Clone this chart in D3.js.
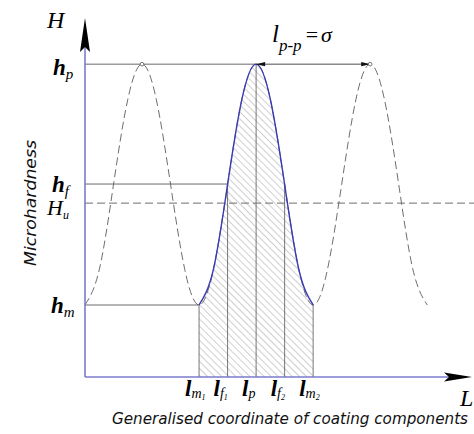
<!DOCTYPE html>
<html><head><meta charset="utf-8">
<script src="https://cdn.jsdelivr.net/npm/d3@7"></script>
<style>body{margin:0;background:#fff}svg{display:block}</style>
</head><body>
<script>
// ---- data ----
const curveX = [0,0.25,0.5,0.75,1,1.25,1.5,1.75,2,2.25,2.5,2.75,3,3.25,3.5,3.75,4,4.25,4.5,4.75,5,5.25,5.5,5.75,6];
const curveH = [2.0,2.98,5.35,7.71,8.69,7.71,5.35,2.98,2.0,2.98,5.35,7.71,8.69,7.71,5.35,2.98,2.0,2.98,5.35,7.71,8.69,7.71,5.35,2.98,2.0];
const markX = [2, 2.5, 3, 3.5, 4];
const markMain = ["l","l","l","l","l"];
const markSub = ["m","f","p","f","m"];
const markSubSub = ["1","1","","2","2"];
const levelNames = ["h","h","H","h"];
const levelSubs = ["p","f","u","m"];
const levelValues = [8.69, 5.36, 4.83, 2.0];
const peakLeft = 1, peakMain = 3, peakRight = 5;
const activeFrom = 2, activeTo = 4;

const W = 474, H = 434;
const svg = d3.select("body").append("svg").attr("width", W).attr("height", H);
const x = d3.scaleLinear().domain([0, 6.75]).range([85, 470]);
const y = d3.scaleLinear().domain([0, 10]).range([377, 17]);

const defs = svg.append("defs");
const pat = defs.append("pattern").attr("id","hatch").attr("patternUnits","userSpaceOnUse")
  .attr("width",5).attr("height",5).attr("patternTransform","rotate(-45)");
pat.append("line").attr("x1",0).attr("y1",0).attr("x2",0).attr("y2",5)
  .attr("stroke","#8a8a8a").attr("stroke-width",0.8);

const pts = curveX.map((v,i)=>[v, curveH[i]]);
const active = pts.filter(p=>p[0]>=activeFrom && p[0]<=activeTo);
const line = d3.line().x(d=>x(d[0])).y(d=>y(d[1])).curve(d3.curveNatural);
const area = d3.area().x(d=>x(d[0])).y0(y(0)).y1(d=>y(d[1])).curve(d3.curveNatural);

// hatched area
svg.append("path").attr("d", area(active)).attr("fill","url(#hatch)");

// dashed full curve
svg.append("path").attr("d", line(pts)).attr("fill","none")
  .attr("stroke","#6e6e6e").attr("stroke-width",1).attr("stroke-dasharray","8,4");

const hOf = xv => curveH[curveX.indexOf(xv)];
// vertical lines
markX.forEach(m=>{
  svg.append("line").attr("x1",x(m)).attr("x2",x(m)).attr("y1",y(0)).attr("y2",y(hOf(m)))
    .attr("stroke","#555").attr("stroke-width",0.8);
});

// H_u dashed line
svg.append("line").attr("x1",x(0)).attr("x2",W).attr("y1",y(levelValues[2])).attr("y2",y(levelValues[2]))
  .attr("stroke","#6e6e6e").attr("stroke-width",1).attr("stroke-dasharray","8,4");
// level lines
svg.append("line").attr("x1",x(0)).attr("x2",x(peakMain)).attr("y1",y(levelValues[0])).attr("y2",y(levelValues[0]))
  .attr("stroke","#444").attr("stroke-width",0.8);
svg.append("line").attr("x1",x(0)).attr("x2",x(markX[1])).attr("y1",y(levelValues[1])).attr("y2",y(levelValues[1]))
  .attr("stroke","#444").attr("stroke-width",0.8);
svg.append("line").attr("x1",x(0)).attr("x2",x(markX[0])).attr("y1",y(levelValues[3])).attr("y2",y(levelValues[3]))
  .attr("stroke","#444").attr("stroke-width",0.8);

// blue active curve
svg.append("path").attr("d", line(active)).attr("fill","none")
  .attr("stroke","#3b3bb5").attr("stroke-width",1.4);

// dimension arrow
const yp = y(levelValues[0]);
svg.append("line").attr("x1",x(peakMain)).attr("x2",x(peakRight)).attr("y1",yp).attr("y2",yp)
  .attr("stroke","#222").attr("stroke-width",0.8);
svg.append("path").attr("d",`M${x(peakMain)},${yp} l9,-2.2 l0,4.4 z`).attr("fill","#111");
svg.append("path").attr("d",`M${x(peakRight)},${yp} l-9,-2.2 l0,4.4 z`).attr("fill","#111");
// small circles at peaks
[peakLeft, peakRight].forEach(p=>{
  svg.append("circle").attr("cx",x(p)).attr("cy",yp).attr("r",1.8).attr("fill","#fff").attr("stroke","#555").attr("stroke-width",0.8);
});

// axes
svg.append("line").attr("x1",x(0)).attr("x2",460).attr("y1",y(0)).attr("y2",y(0))
  .attr("stroke","#7b7bcc").attr("stroke-width",1.6);
svg.append("line").attr("x1",x(0)).attr("x2",x(0)).attr("y1",y(0)).attr("y2",30)
  .attr("stroke","#7b7bcc").attr("stroke-width",1.6);
svg.append("path").attr("d",`M${x(0)},18 L${x(0)+5},52 L${x(0)},47 L${x(0)-5},52 Z`).attr("fill","#000");
svg.append("path").attr("d",`M472,${y(0)} L444,${y(0)-4.5} L449,${y(0)} L444,${y(0)+4.5} Z`).attr("fill","#000");

const serif = "'Liberation Serif','DejaVu Serif',serif";
// axis name labels
svg.append("text").attr("x",47).attr("y",28).attr("font-family",serif).attr("font-style","italic")
  .attr("font-size",24).text("H");
svg.append("text").attr("x",460).attr("y",406).attr("font-family",serif).attr("font-style","italic")
  .attr("font-size",24).text("L");

// level labels
const levelLabelX = [53, 52, 47, 51];
const levelDy = [11, 8, 12, 8];
levelValues.forEach((v,i)=>{
  const t = svg.append("text").attr("x",levelLabelX[i]).attr("y",y(v)+levelDy[i])
    .attr("font-family",serif).attr("font-style","italic").attr("font-size",i===2?22:23)
    .attr("font-weight", i===2?"normal":"bold");
  t.append("tspan").text(levelNames[i]);
  t.append("tspan").attr("font-size",i===2?12:15).attr("font-weight","normal").attr("dy",4).text(levelSubs[i]);
});

// bottom marker labels
markX.forEach((m,i)=>{
  const t = svg.append("text").attr("x",x(m)-14).attr("y",396)
    .attr("font-family",serif).attr("font-style","italic").attr("font-size",23).attr("font-weight","bold");
  t.append("tspan").text(markMain[i]);
  t.append("tspan").attr("font-size",14).attr("font-weight","normal").attr("dy",2).text(markSub[i]);
  if (markSubSub[i]) t.append("tspan").attr("font-size",8).attr("font-weight","normal").attr("dy",2).text(markSubSub[i]);
});

// top label l_{p-p} = σ
const tt = svg.append("text").attr("x",272).attr("y",42).attr("font-family",serif).attr("font-style","italic").attr("font-size",25);
tt.append("tspan").text("l");
tt.append("tspan").attr("font-size",17).attr("dy",9).text("p-p");
tt.append("tspan").attr("font-size",22).attr("font-style","normal").attr("dy",-9).attr("dx",4).text("=");
tt.append("tspan").attr("font-size",22).attr("dx",3).text("σ");

// axis titles
const tech = "'DejaVu Sans Condensed','DejaVu Sans',sans-serif";
svg.append("text").attr("transform","translate(36,203) rotate(-90)").attr("text-anchor","middle")
  .attr("font-family",tech).attr("font-style","italic").attr("font-size",15).attr("fill","#111")
  .attr("textLength",126).attr("lengthAdjust","spacingAndGlyphs").text("Microhardness");
svg.append("text").attr("x",112).attr("y",424)
  .attr("font-family",tech).attr("font-style","italic").attr("font-size",15).attr("fill","#111")
  .attr("textLength",356).attr("lengthAdjust","spacingAndGlyphs").text("Generalised coordinate of coating components");
</script>
</body></html>
